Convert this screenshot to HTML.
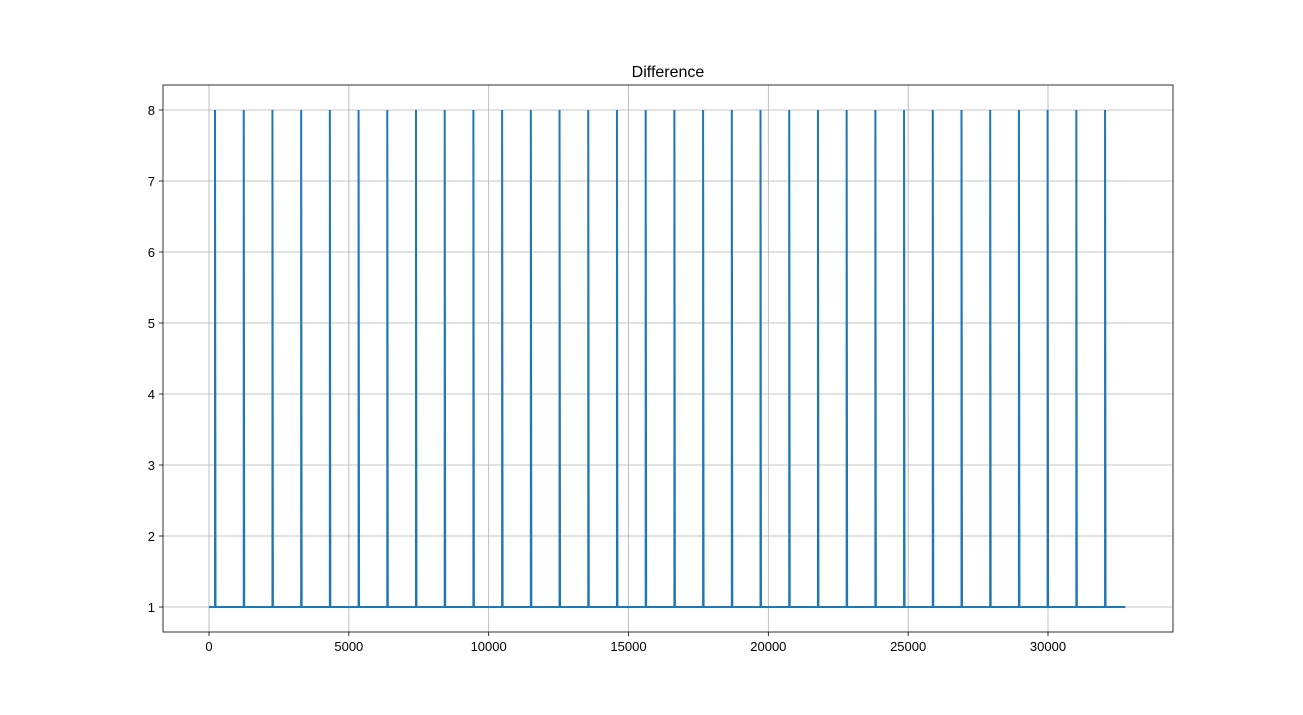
<!DOCTYPE html>
<html><head><meta charset="utf-8"><style>
body{margin:0;background:#fff;font-family:"Liberation Sans","DejaVu Sans",sans-serif}
</style></head><body>
<svg id="chart" width="1303" height="710" xmlns="http://www.w3.org/2000/svg"></svg>
<script>
const spikeXs=[215,1242,2268,3295,4321,5348,6375,7401,8428,9454,10481,11508,12534,13561,14587,15614,16641,17667,18694,19720,20747,21774,22800,23827,24853,25880,26907,27933,28960,29986,31013,32040];
const spikeValue=8;
const baseValue=1;
const xStart=0, xEnd=32767;
const xTicks=[0,5000,10000,15000,20000,25000,30000];
const yTicks=[1,2,3,4,5,6,7,8];
const NS="http://www.w3.org/2000/svg";
const svg=document.getElementById('chart');
const L=163,R=1173,T=85,B=632;
const sx=v=>209+v*(1048-209)/30000;
const sy=v=>607-(v-1)*71;
function mk(t,a,p){const e=document.createElementNS(NS,t);for(const k in a)e.setAttribute(k,a[k]);(p||svg).appendChild(e);return e;}
// grid
xTicks.forEach(v=>{const x=sx(v);
 const g=mk('line',{x1:x,x2:x,y1:T,y2:B,stroke:'#b0b0b0','stroke-width':0.8});
 
 
 mk('line',{x1:x,x2:x,y1:B,y2:B+4,stroke:'#000','stroke-width':0.8});
 const t=mk('text',{x:x,y:B+19,'text-anchor':'middle','font-size':13,fill:'#000'});t.textContent=v;
 
 
});
yTicks.forEach(v=>{const y=sy(v);
 const g=mk('line',{x1:L,x2:R,y1:y,y2:y,stroke:'#b0b0b0','stroke-width':0.8});
 
 
 mk('line',{x1:L-4,x2:L,y1:y,y2:y,stroke:'#000','stroke-width':0.8});
 const t=mk('text',{x:L-8,y:y+5,'text-anchor':'end','font-size':13,fill:'#000'});t.textContent=v;
 
 
});
// series
let d=`M${sx(xStart)},${sy(baseValue)}`;
spikeXs.forEach(v=>{d+=` L${sx(v)},${sy(baseValue)} L${sx(v)},${sy(spikeValue)} L${sx(v)+0.5},${sy(baseValue)}`;});
d+=` L${sx(xEnd)},${sy(baseValue)}`;
const p=mk('path',{d:d,fill:'none',stroke:'#1f77b4','stroke-width':2});


const fr=mk('rect',{x:L,y:T,width:R-L,height:B-T,fill:'none',stroke:'#000','stroke-width':0.8});


const ti=mk('text',{x:(L+R)/2,y:T-8,'text-anchor':'middle','font-size':16,fill:'#000'});ti.textContent='Difference';


</script>
</body></html>
